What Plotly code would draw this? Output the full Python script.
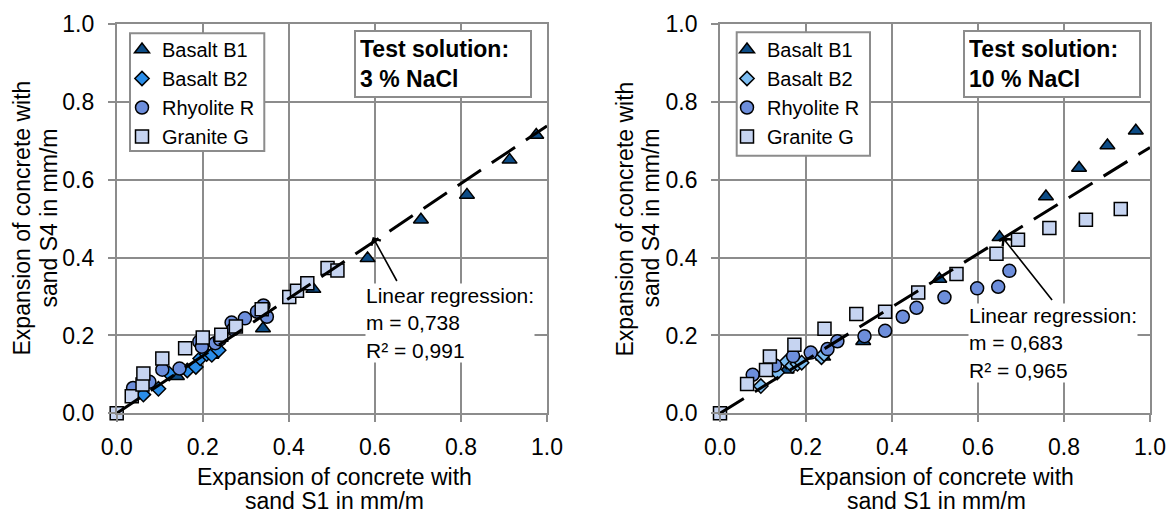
import plotly.graph_objects as go

W, H = 1175, 516
FONT = "Liberation Sans, Arial, sans-serif"
GRID = "#8c8c8c"

# ---------------- data: left panel (3 % NaCl) ----------------
b1_x_3 = [0.14, 0.22, 0.34, 0.457, 0.583, 0.707, 0.814, 0.913, 0.975]
b1_y_3 = [0.095, 0.15, 0.218, 0.319, 0.398, 0.497, 0.561, 0.651, 0.715]
b2_x_3 = [0.062, 0.097, 0.122, 0.164, 0.184, 0.194, 0.209, 0.221, 0.237]
b2_y_3 = [0.048, 0.063, 0.102, 0.110, 0.119, 0.141, 0.152, 0.150, 0.162]
r_x_3 = [0.038, 0.076, 0.106, 0.146, 0.192, 0.198, 0.229, 0.24, 0.267, 0.271, 0.298, 0.326, 0.341, 0.349]
r_y_3 = [0.065, 0.081, 0.112, 0.115, 0.184, 0.171, 0.180, 0.19, 0.233, 0.216, 0.244, 0.261, 0.277, 0.248]
g_x_3 = [0.0, 0.035, 0.06, 0.062, 0.106, 0.159, 0.200, 0.243, 0.277, 0.337, 0.401, 0.419, 0.443, 0.490, 0.513]
g_y_3 = [0.0, 0.044, 0.074, 0.102, 0.141, 0.167, 0.195, 0.202, 0.223, 0.267, 0.299, 0.315, 0.334, 0.373, 0.367]

# ---------------- data: right panel (10 % NaCl) ----------------
b1_x_10 = [0.155, 0.24, 0.333, 0.51, 0.65, 0.758, 0.835, 0.901, 0.967]
b1_y_10 = [0.112, 0.145, 0.185, 0.345, 0.452, 0.557, 0.630, 0.688, 0.726]
b2_x_10 = [0.095, 0.133, 0.155, 0.168, 0.180, 0.190, 0.236, 0.242]
b2_y_10 = [0.070, 0.105, 0.133, 0.122, 0.127, 0.130, 0.144, 0.152]
r_x_10 = [0.076, 0.128, 0.170, 0.211, 0.250, 0.273, 0.336, 0.384, 0.425, 0.457, 0.522, 0.598, 0.647, 0.673]
r_y_10 = [0.099, 0.123, 0.147, 0.156, 0.165, 0.185, 0.198, 0.212, 0.248, 0.271, 0.298, 0.321, 0.325, 0.366]
g_x_10 = [0.0, 0.063, 0.107, 0.116, 0.173, 0.243, 0.317, 0.384, 0.461, 0.550, 0.643, 0.693, 0.766, 0.851, 0.932]
g_y_10 = [0.0, 0.075, 0.111, 0.146, 0.176, 0.217, 0.255, 0.261, 0.310, 0.358, 0.410, 0.446, 0.476, 0.497, 0.525]

series_names = ["Basalt B1", "Basalt B2", "Rhyolite R", "Granite G"]
slopes = [0.738, 0.683]
r2_values = ["0,991", "0,965"]
slope_labels = ["0,738", "0,683"]
solutions = ["3 % NaCl", "10 % NaCl"]
x_title_lines = ["Expansion of concrete with", "sand S1 in mm/m"]
y_title_lines = ["Expansion of concrete with", "sand S4 in mm/m"]
trend_x = [0.0, 1.0]

panels = [
    dict(xs=[b1_x_3, b2_x_3, r_x_3, g_x_3], ys=[b1_y_3, b2_y_3, r_y_3, g_y_3],
         xa="x", ya="y", legend="legend", b2color="#2a8de8"),
    dict(xs=[b1_x_10, b2_x_10, r_x_10, g_x_10], ys=[b1_y_10, b2_y_10, r_y_10, g_y_10],
         xa="x2", ya="y2", legend="legend2", b2color="#7dbdf2"),
]

symbols = ["triangle-up", "diamond", "circle", "square"]
sizes = [13, 11, 13, 13]

fig = go.Figure()
for pi, p in enumerate(panels):
    colors = ["#0d4c86", p["b2color"], "#6d8edb", "#c6d4f1"]
    for i in range(4):
        fig.add_trace(go.Scatter(
            x=p["xs"][i], y=p["ys"][i], mode="markers", name=series_names[i],
            xaxis=p["xa"], yaxis=p["ya"], legend=p["legend"], cliponaxis=False,
            marker=dict(symbol=symbols[i], size=sizes[i], color=colors[i],
                        line=dict(color="black", width=1.5)),
        ))
    fig.add_trace(go.Scatter(
        x=trend_x, y=[slopes[pi] * v for v in trend_x], mode="lines",
        xaxis=p["xa"], yaxis=p["ya"], showlegend=False, cliponaxis=False,
        line=dict(color="black", width=3, dash="28px,13px"),
    ))

ydom = [(H - 413.3) / H, (H - 24) / H]
axis_common = dict(range=[0, 1], tick0=0, dtick=0.2, tickformat=".1f", automargin=False,
                   showgrid=True, gridcolor=GRID, gridwidth=1.8,
                   showline=True, linecolor=GRID, linewidth=1.8, mirror=True,
                   ticks="outside", ticklen=7, tickcolor=GRID, tickwidth=1.8,
                   zeroline=False, tickfont=dict(size=23, color="black", family=FONT))

fig.update_layout(
    width=W, height=H, margin=dict(l=0, r=0, t=0, b=0, pad=0, autoexpand=False),
    paper_bgcolor="white", plot_bgcolor="white",
    font=dict(family=FONT, color="black"),
    xaxis=dict(domain=[116.7 / W, 547 / W], anchor="y", ticklabelstandoff=5, **axis_common),
    yaxis=dict(domain=ydom, anchor="x", ticklabelstandoff=9, **axis_common),
    xaxis2=dict(domain=[720 / W, 1150 / W], anchor="y2", ticklabelstandoff=5, **axis_common),
    yaxis2=dict(domain=ydom, anchor="x2", ticklabelstandoff=9, **axis_common),
    legend=dict(x=122 / W, y=1 - 30 / H, xanchor="left", yanchor="top",
                bgcolor="rgba(0,0,0,0)", borderwidth=0,
                font=dict(size=20, family=FONT, color="black")),
    legend2=dict(x=727 / W, y=1 - 30 / H, xanchor="left", yanchor="top",
                 bgcolor="rgba(0,0,0,0)", borderwidth=0,
                 font=dict(size=20, family=FONT, color="black")),
)

# legend boxes
for (x0, x1, y0, y1) in [(130, 264.3, 33.3, 151), (736.7, 870, 32.3, 155.7)]:
    fig.add_shape(type="rect", xref="paper", yref="paper",
                  x0=x0 / W, x1=x1 / W, y0=1 - y1 / H, y1=1 - y0 / H,
                  line=dict(color=GRID, width=2), fillcolor="white", layer="above")

# annotations
anns = []
xt_centers = [334, 936]
xt_rows = [477, 501]
yt_cols = [(21, 48), (624, 650)]
box_left = [0.552, 0.566]
arrow_head = [(0.595, 0.453), (0.657, 0.452)]
arrow_tail = [(0.653, 0.336), (0.775, 0.287)]
text_pos = [(0.578, 0.335), (0.576, 0.284)]
for pi, p in enumerate(panels):
    for li in range(2):
        anns.append(dict(xref="paper", yref="paper", x=xt_centers[pi] / W, y=1 - xt_rows[li] / H,
                         text=x_title_lines[li], showarrow=False, xanchor="center", yanchor="middle",
                         font=dict(size=23, family=FONT, color="black")))
        anns.append(dict(xref="paper", yref="paper", x=yt_cols[pi][li] / W, y=1 - 218.5 / H,
                         text=y_title_lines[li], showarrow=False, textangle=-90,
                         xanchor="center", yanchor="middle",
                         font=dict(size=23, family=FONT, color="black")))
    anns.append(dict(xref=p["xa"], yref=p["ya"], x=box_left[pi], y=0.985,
                     text="<b>Test solution:<br>" + solutions[pi] + "</b>", showarrow=False,
                     xanchor="left", yanchor="top", align="left", width=166,
                     bgcolor="white", bordercolor=GRID, borderwidth=2, borderpad=4,
                     font=dict(size=23, family=FONT, color="black")))
    anns.append(dict(xref=p["xa"], yref=p["ya"], x=text_pos[pi][0], y=text_pos[pi][1],
                     text="Linear regression:<br>m = " + slope_labels[pi] + "<br>R² = " + r2_values[pi],
                     showarrow=False, xanchor="left", yanchor="top", align="left",
                     bgcolor="white", borderpad=0,
                     font=dict(size=21, family=FONT, color="black")))
    anns.append(dict(xref=p["xa"], yref=p["ya"], axref=p["xa"], ayref=p["ya"],
                     x=arrow_head[pi][0], y=arrow_head[pi][1],
                     ax=arrow_tail[pi][0], ay=arrow_tail[pi][1], text="",
                     showarrow=True, arrowhead=4, arrowsize=1.3, arrowwidth=1.6,
                     arrowcolor="black", standoff=0, startstandoff=0))
fig.update_layout(annotations=anns)

fig.write_html("out.html")
